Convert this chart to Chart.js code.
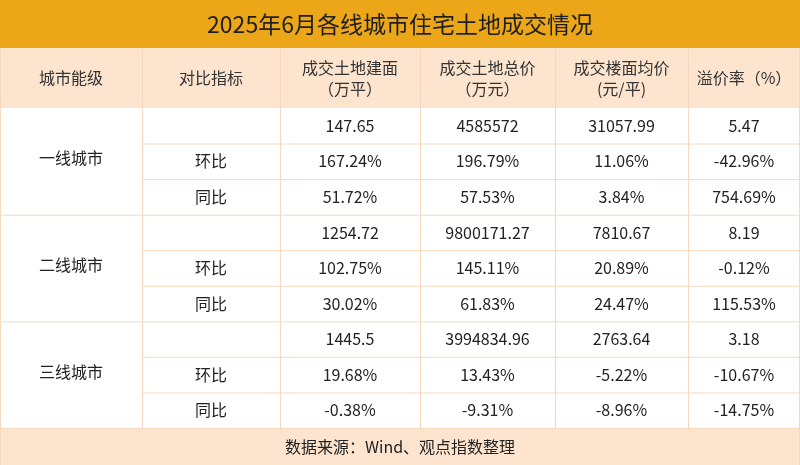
<!DOCTYPE html>
<html><head><meta charset="utf-8">
<script src="https://cdn.jsdelivr.net/npm/chart.js@4"></script>
<style>html,body{margin:0;padding:0;background:#fff}#wrap{width:800px;height:465px}</style>
</head><body><div id="wrap"><canvas id="c"></canvas></div>
<script>
const title = "2025年6月各线城市住宅土地成交情况";
const source = "数据来源：Wind、观点指数整理";
const headers = [["城市能级"], ["对比指标"], ["成交土地建面", "（万平）"], ["成交土地总价", "（万元）"], ["成交楼面均价", "(元/平)"], ["溢价率（%）"]];
const cities = ["一线城市", "二线城市", "三线城市"];
const metrics = ["", "环比", "同比"];
const area = ["147.65", "167.24%", "51.72%", "1254.72", "102.75%", "30.02%", "1445.5", "19.68%", "-0.38%"];
const total = ["4585572", "196.79%", "57.53%", "9800171.27", "145.11%", "61.83%", "3994834.96", "13.43%", "-9.31%"];
const price = ["31057.99", "11.06%", "3.84%", "7810.67", "20.89%", "24.47%", "2763.64", "-5.22%", "-8.96%"];
const premium = ["5.47", "-42.96%", "754.69%", "8.19", "-0.12%", "115.53%", "3.18", "-10.67%", "-14.75%"];

// layout of the grid in scale units
const colEdges = [0, 142, 280, 420, 555, 688, 800];
const rowEdges = [0, 48, 108];
for (let i = 1; i <= 9; i++) rowEdges.push(108 + i * 320 / 9);
rowEdges.push(465);

const font = "'Noto Sans CJK SC', 'Noto Sans', sans-serif";
const line = "#F5D9BF";

const tablePlugin = {
  id: "table",
  beforeDatasetsDraw(chart) {
    const ctx = chart.ctx, x = chart.scales.x, y = chart.scales.y;
    const X = (v) => x.getPixelForValue(v), Y = (v) => y.getPixelForValue(v);
    const rect = (c0, c1, r0, r1, col) => { ctx.fillStyle = col; ctx.fillRect(X(c0), Y(r0), X(c1) - X(c0), Y(r1) - Y(r0)); };
    const text = (s, cx, cy, size, color) => {
      ctx.font = size + "px " + font; ctx.fillStyle = color;
      ctx.textAlign = "center"; ctx.textBaseline = "middle"; ctx.fillText(s, cx, cy);
    };
    const hline = (c0, c1, r) => { ctx.beginPath(); ctx.moveTo(X(c0), Y(r) + 0.5); ctx.lineTo(X(c1), Y(r) + 0.5); ctx.stroke(); };
    const vline = (c, r0, r1) => { ctx.beginPath(); ctx.moveTo(X(c) + 0.5, Y(r0)); ctx.lineTo(X(c) + 0.5, Y(r1)); ctx.stroke(); };
    const last = rowEdges.length - 1;
    const W = colEdges[colEdges.length - 1];

    rect(0, W, rowEdges[0], rowEdges[1], "#EBA718");
    rect(0, W, rowEdges[1], rowEdges[2], "#FCE4CE");
    rect(0, W, rowEdges[last - 1], rowEdges[last], "#FCE4CE");

    text(title, X(W / 2), (Y(rowEdges[0]) + Y(rowEdges[1])) / 2, 23, "#1e1e1e");
    headers.forEach((h, i) => {
      const cx = (X(colEdges[i]) + X(colEdges[i + 1])) / 2;
      const cy = (Y(rowEdges[1]) + Y(rowEdges[2])) / 2;
      if (h.length === 1) text(h[0], cx, cy, 16, "#333");
      else { text(h[0], cx, cy - 10, 16, "#333"); text(h[1], cx, cy + 11, 16, "#333"); }
    });
    const cols = [area, total, price, premium];
    for (let r = 0; r < 9; r++) {
      const cy = (Y(rowEdges[r + 2]) + Y(rowEdges[r + 3])) / 2;
      text(metrics[r % 3], (X(colEdges[1]) + X(colEdges[2])) / 2, cy, 16, "#222");
      cols.forEach((arr, k) => text(arr[r], (X(colEdges[k + 2]) + X(colEdges[k + 3])) / 2, cy, 16, "#222"));
    }
    cities.forEach((c, g) => {
      const cy = (Y(rowEdges[2 + g * 3]) + Y(rowEdges[5 + g * 3])) / 2;
      text(c, (X(colEdges[0]) + X(colEdges[1])) / 2, cy - 3, 16, "#222");
    });
    text(source, X(W / 2), (Y(rowEdges[last - 1]) + Y(rowEdges[last])) / 2, 16, "#222");

    ctx.strokeStyle = line; ctx.lineWidth = 1;
    for (let r = 3; r < last - 1; r++) {
      hline((r - 2) % 3 === 0 ? 0 : colEdges[1], W, rowEdges[r]);
    }
    hline(0, W, rowEdges[last - 1]);
    for (let c = 1; c < colEdges.length - 1; c++) vline(colEdges[c], rowEdges[1], rowEdges[last - 1]);
    vline(0, rowEdges[1], rowEdges[last]);
    vline(W - 1, rowEdges[1], rowEdges[last]);
  }
};

new Chart(document.getElementById("c"), {
  type: "scatter",
  data: { datasets: [{ data: [], pointRadius: 0 }] },
  options: {
    responsive: true, maintainAspectRatio: false, animation: false,
    layout: { padding: 0 },
    plugins: { legend: { display: false }, tooltip: { enabled: false } },
    scales: {
      x: { type: "linear", min: 0, max: 800, display: false },
      y: { type: "linear", min: 0, max: 465, reverse: true, display: false }
    }
  },
  plugins: [tablePlugin]
});
</script></body></html>
